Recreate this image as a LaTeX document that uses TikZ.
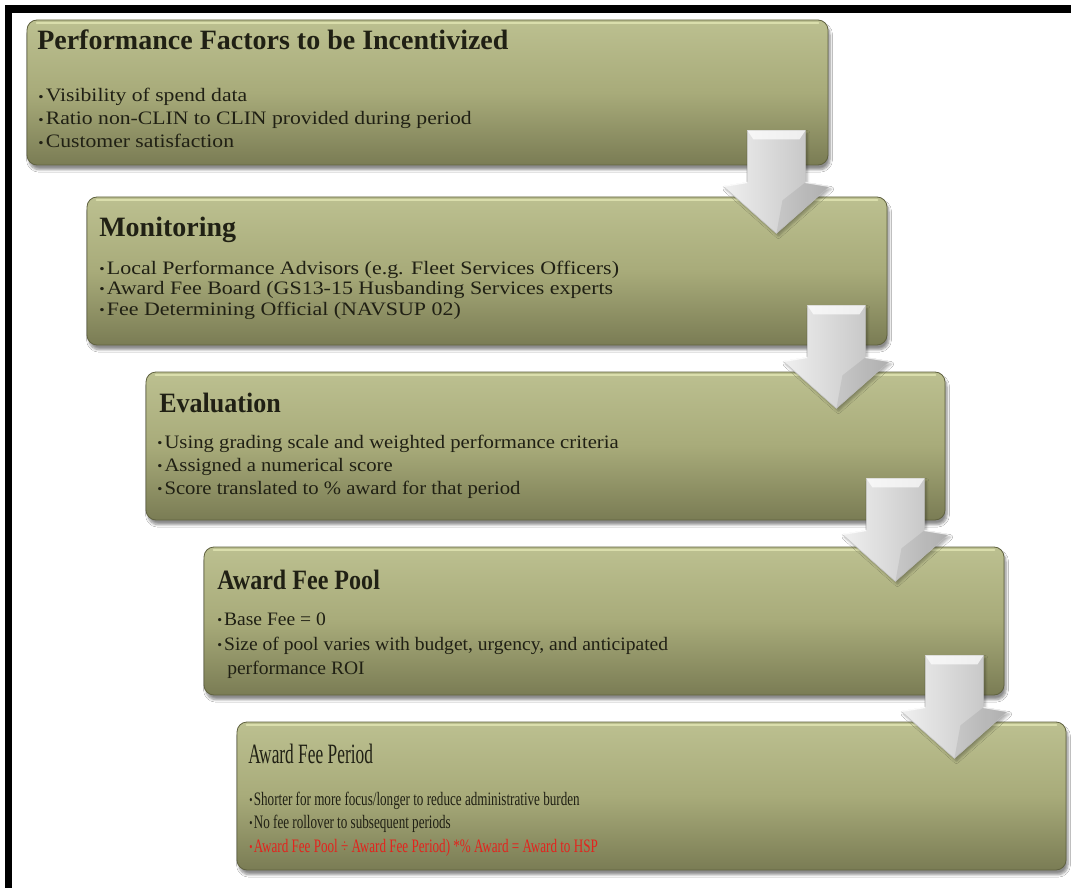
\documentclass[tikz,border=0pt]{standalone}
\usepackage{fontspec}
\setmainfont{Liberation Serif}
\usetikzlibrary{shadows.blur,calc}

\definecolor{olTop}{RGB}{188,192,144}
\definecolor{olMid}{RGB}{168,171,122}
\definecolor{olBot}{RGB}{122,124,84}
\definecolor{olRim}{RGB}{218,222,172}
\definecolor{olEdge}{RGB}{96,98,64}
\definecolor{ink}{RGB}{32,32,20}
\definecolor{alert}{RGB}{226,36,30}

% small bullet used in front of every list entry
\newcommand\bul{\raisebox{0.5pt}{\scalebox{0.7}{\textbullet}}\hspace{1.5pt}}
% horizontal squeeze / stretch of a piece of text
\newcommand\sqz[2]{\scalebox{#1}[1]{#2}}

\tikzset{
  panel/.style={rectangle, rounded corners=7.5pt, inner sep=0pt,
    top color=olTop, bottom color=olBot, middle color=olMid,
    draw=olEdge, line width=0.6pt,
    blur shadow={shadow xshift=1.5pt, shadow yshift=-3.5pt,
                 shadow blur steps=6, shadow opacity=45}},
  rim/.style={olRim, line width=1.6pt, line cap=round},
  ttl/.style={anchor=base west, inner sep=0pt, text=ink,
    font=\fontsize{21}{25}\selectfont\bfseries},
  ttlreg/.style={anchor=base west, inner sep=0pt, text=ink,
    font=\fontsize{21}{25}\selectfont},
  itm/.style={anchor=base west, inner sep=0pt, text=ink,
    font=\fontsize{14.25}{17}\selectfont},
  arrowbody/.style={left color=black!6, middle color=white!96!black, right color=black!26,
    draw=black!22, line width=0.4pt,
    blur shadow={shadow xshift=1.5pt, shadow yshift=-2pt,
                 shadow blur steps=5, shadow opacity=30}},
  pics/downarrow/.style={code={
    \path[arrowbody] (-29,0) -- (29,0) -- (29,52) -- (53,56) -- (0,103)
          -- (-53,56) -- (-29,52) -- cycle;
    % bevelled top of the shaft
    \fill[white, opacity=0.7] (-29,0) -- (29,0) -- (23,9) -- (-23,9) -- cycle;
    % darker right face of the head
    \fill[black, opacity=0.07] (0,103) -- (53,56) -- (29,52) -- (6,70) -- cycle;
    % bright upper edge of the wings
    \draw[white, line width=1pt, opacity=0.9] (-53,56) -- (-29,52);
    \draw[white, line width=1pt, opacity=0.7] (29,52) -- (53,56);
  }}
}

\begin{document}
\begin{tikzpicture}[x=0.75pt, y=-0.75pt]
  \useasboundingbox (0,0) rectangle (1071,888);
  \fill[white] (0,0) rectangle (1071,888);

  % frame bars along the top and left edge
  \fill[black] (5,5) rectangle (1071,13);
  \fill[black] (5,5) rectangle (12,888);

  % the five stage panels
  \node[panel, minimum width=600.75pt, minimum height=108.75pt] (p1) at (427.5,92.5) {};
  \node[panel, minimum width=600pt,    minimum height=111pt]    (p2) at (487,271) {};
  \node[panel, minimum width=599.25pt, minimum height=111pt]    (p3) at (545.5,446) {};
  \node[panel, minimum width=600pt,    minimum height=111pt]    (p4) at (604,621) {};
  \node[panel, minimum width=621.75pt, minimum height=111pt]    (p5) at (651.5,796) {};

  % light rim along the top of each panel
  \foreach \p in {p1,p2,p3,p4,p5}
    \draw[rim] ($(\p.north west)+(10,3)$) -- ($(\p.north east)+(-10,3)$);

  % panel 1
  \node[ttl] (t1) at (37,50) {Performance Factors to be Incentivized};
  \node[itm] (i11) at (38,102) {\sqz{1.14}{\bul Visibility of spend data}};
  \node[itm] (i12) at (38,125) {\sqz{1.14}{\bul Ratio non-CLIN to CLIN provided during period}};
  \node[itm] (i13) at (38,148) {\sqz{1.14}{\bul Customer satisfaction}};

  % panel 2
  \node[ttl] (t2) at (99,237) {Monitoring};
  \node[itm] (i21) at (99,274) {\sqz{1.155}{\bul Local Performance Advisors (e.g. Fleet Services Officers)}};
  \node[itm] (i22) at (99,294) {\sqz{1.155}{\bul Award Fee Board (GS13-15 Husbanding Services experts}};
  \node[itm] (i23) at (99,315) {\sqz{1.155}{\bul Fee Determining Official (NAVSUP 02)}};

  % panel 3
  \node[ttl] (t3) at (159,412) {\sqz{0.93}{Evaluation}};
  \node[itm] (i31) at (157,448) {\sqz{1.09}{\bul Using grading scale and weighted performance criteria}};
  \node[itm] (i32) at (157,471) {\sqz{1.09}{\bul Assigned a numerical score}};
  \node[itm] (i33) at (157,494) {\sqz{1.09}{\bul Score translated to \% award for that period}};

  % panel 4
  \node[ttl] (t4) at (217,589) {\sqz{0.86}{Award Fee Pool}};
  \node[itm] (i41) at (217,625) {\sqz{1.03}{\bul Base Fee = 0}};
  \node[itm] (i42) at (217,650) {\sqz{1.03}{\bul Size of pool varies with budget, urgency, and anticipated}};
  \node[itm] (i43) at (227,674) {\sqz{1.03}{performance ROI}};

  % panel 5
  \node[ttlreg] (t5) at (248,763) {\sqz{0.62}{Award Fee Period}};
  \node[itm] (i51) at (249,805) {\sqz{0.69}{\bul Shorter for more focus/longer to reduce administrative burden}};
  \node[itm] (i52) at (249,828) {\sqz{0.69}{\bul No fee rollover to subsequent periods}};
  \node[itm, text=alert] (i53) at (249,852) {\sqz{0.69}{\bul Award Fee Pool ÷ Award Fee Period) *\% Award = Award to HSP}};

  % block arrows leading from each panel into the next
  \pic at ($(p1.south east)+(-52,-35)$) {downarrow};
  \pic at ($(p2.south east)+(-51,-40)$) {downarrow};
  \pic at ($(p3.south east)+(-50,-42)$) {downarrow};
  \pic at ($(p4.south east)+(-50,-40)$) {downarrow};
\end{tikzpicture}
\end{document}
